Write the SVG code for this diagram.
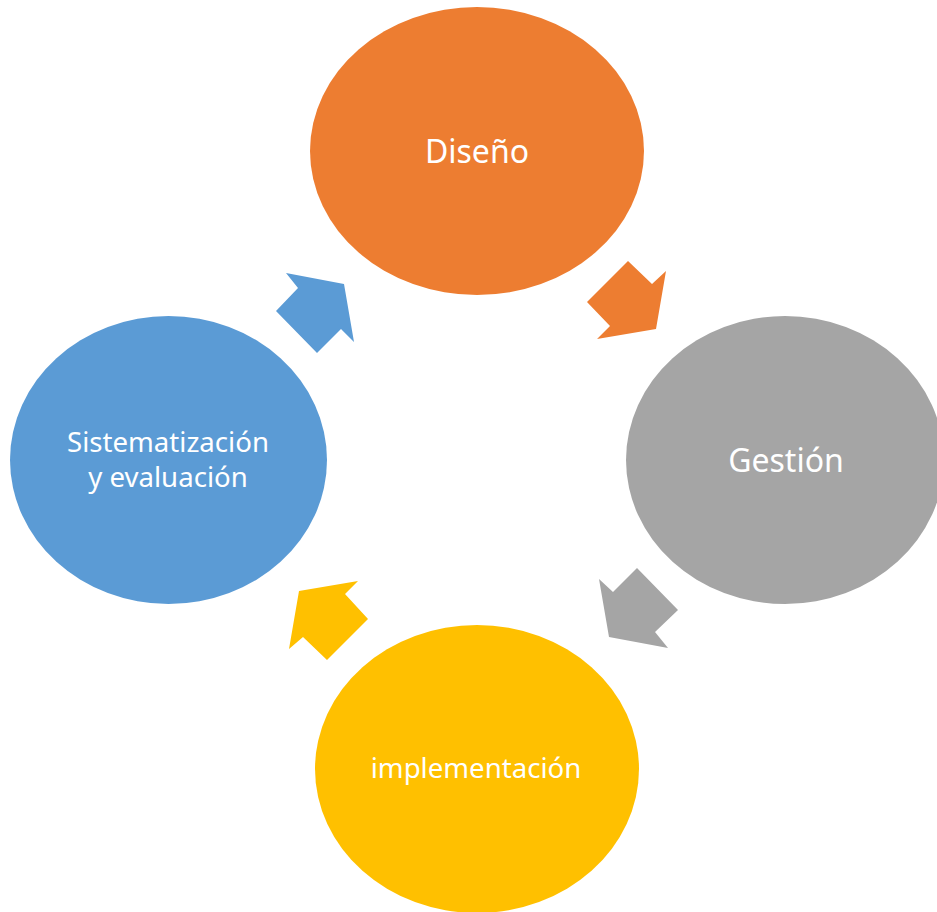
<svg xmlns="http://www.w3.org/2000/svg" width="937" height="912" viewBox="0 0 937 912">
<style>
.lbl{font-family:"Noto Sans","Open Sans",sans-serif;fill:#FFFFFF;text-anchor:middle}
.big{font-size:32px}
.sm{font-size:27.6px}
</style>
<rect width="937" height="912" fill="#FFFFFF"/>
<g id="connectors">
<polygon fill="#ED7D31" points="628,261 652,284 666,271 656,329 597,339 610,326 587,302"/>
<polygon fill="#A5A5A5" points="637,568 678,610 655,632 668,648 609,637 599,579 613,592"/>
<polygon fill="#FFC000" points="358,581 345,594 368,619 327,660 303,637 289,649 299,591"/>
<polygon fill="#5B9BD5" points="286,273 344,284 354,342 341,329 317,353 276,311 298,288"/>
</g>
<g id="node-diseno">
<ellipse cx="477" cy="151" rx="167" ry="144" fill="#ED7D31"/>
<text class="lbl big" x="477" y="163">Diseño</text>
</g>
<g id="node-gestion">
<ellipse cx="785" cy="460" rx="159" ry="144" fill="#A5A5A5"/>
<text class="lbl big" x="786" y="472">Gestión</text>
</g>
<g id="node-implementacion">
<ellipse cx="477" cy="769" rx="162" ry="144" fill="#FFC000"/>
<text class="lbl sm" x="476" y="778">implementación</text>
</g>
<g id="node-sistematizacion">
<ellipse cx="168.5" cy="460" rx="158.5" ry="144" fill="#5B9BD5"/>
<text class="lbl sm" x="168" y="452">Sistematización</text>
<text class="lbl sm" x="168" y="487">y evaluación</text>
</g>
</svg>
